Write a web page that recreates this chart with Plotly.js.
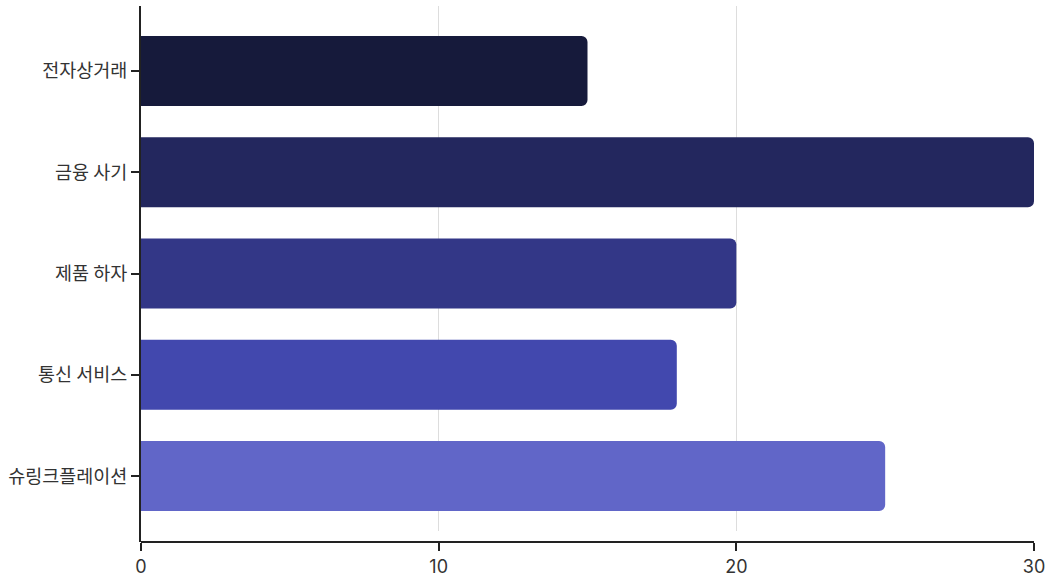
<!DOCTYPE html>
<html>
<head>
<meta charset="utf-8">
<script src="https://cdn.plot.ly/plotly-3.0.1.min.js"></script>
<style>
  html, body { margin: 0; padding: 0; background: #fff; }
  #chart { width: 1053px; height: 578px; }
</style>
</head>
<body>
<div id="chart"></div>
<script>
const categories = ["전자상거래", "금융 사기", "제품 하자", "통신 서비스", "슈링크플레이션"];
const values = [15, 30, 20, 18, 25];
const xTicks = [0, 10, 20, 30];

const barColors = ["#161a3b", "#23275e", "#333787", "#4248ae", "#6166c8"];
const fontFamily = "Inter, 'Noto Sans CJK KR', sans-serif";
const krFamily = "'Noto Sans CJK KR', 'Noto Sans', sans-serif";
const axisDark = "#222222";
const marginL = 141, marginR = 19;
const plotW = 1053 - marginL - marginR;
const gapFrac = 11 / 536;

const trace = {
  type: "bar",
  orientation: "h",
  y: categories,
  x: values,
  marker: { color: barColors, line: { width: 0 } },
  hoverinfo: "x+y"
};

const layout = {
  width: 1053,
  height: 578,
  margin: { l: marginL, r: marginR, t: 6, b: 36, pad: 0 },
  paper_bgcolor: "#ffffff",
  plot_bgcolor: "#ffffff",
  showlegend: false,
  bargap: 0.309,
  barcornerradius: 6,
  font: { family: fontFamily, size: 16, color: "#333333" },
  xaxis: {
    range: [0, 30],
    tickvals: xTicks,
    ticktext: xTicks.map(String),
    anchor: "free",
    position: 0,
    showline: true,
    linecolor: axisDark,
    linewidth: 2,
    ticks: "outside",
    ticklen: 8,
    tickwidth: 2,
    tickcolor: axisDark,
    showgrid: true,
    gridcolor: "#dddddd",
    gridwidth: 1,
    zeroline: false,
    tickfont: { family: fontFamily, size: 18, color: "#333333" },
    fixedrange: true
  },
  yaxis: {
    type: "category",
    categoryorder: "array",
    categoryarray: categories,
    range: [4.543, -0.642],
    domain: [gapFrac, 1],
    showline: true,
    linecolor: axisDark,
    linewidth: 2,
    ticks: "outside",
    ticklen: 8,
    tickwidth: 2,
    tickcolor: axisDark,
    showgrid: false,
    zeroline: false,
    tickfont: { family: krFamily, size: 18.5, color: "#333333" },
    fixedrange: true
  },
  shapes: [{
    type: "line",
    xref: "paper", yref: "paper",
    x0: -1 / plotW, x1: -1 / plotW, y0: 0, y1: gapFrac + 0.002,
    line: { color: axisDark, width: 2 },
    layer: "above"
  }]
};

Plotly.newPlot("chart", [trace], layout, { displayModeBar: false, staticPlot: true });
</script>
</body>
</html>
